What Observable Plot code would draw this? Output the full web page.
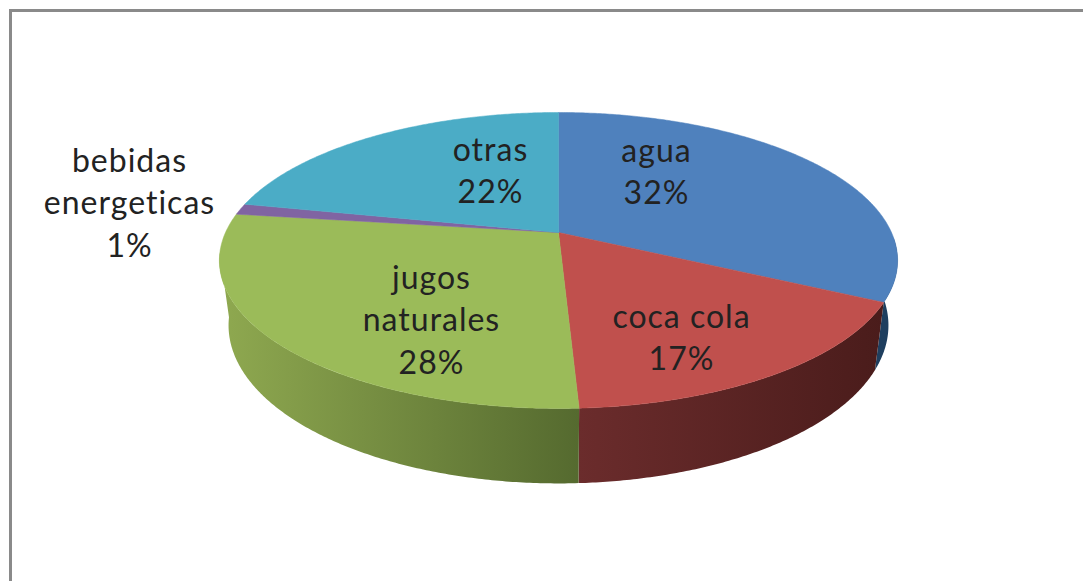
<!DOCTYPE html>
<html lang="es">
<head>
<meta charset="utf-8">
<script src="https://cdn.jsdelivr.net/npm/d3@7"></script>
<script src="https://cdn.jsdelivr.net/npm/@observablehq/plot@0.6"></script>
<style>
html,body{margin:0;padding:0;background:#fff;overflow:hidden}
svg{display:block}
svg text{font-variant-ligatures:none;letter-spacing:1px}
</style>
</head>
<body>
<div id="chart"></div>
<script>
// Data
const categories = ["agua", "coca cola", "jugos naturales", "bebidas energeticas", "otras"];
const values = [32.4, 16.8, 27.9, 1.2, 21.7];

// Styles
const topColors = ["#4f81bd", "#c0504d", "#9bbb59", "#8064a2", "#4bacc6"];
const wallStops = [["#1f3f5f", "#1f3f5f"], ["#6b2c2c", "#4a1c1b"], ["#8fa950", "#556a2f"], null, null];

// Perspective view of the disc
const W = 1083, H = 581, cx = 558;
const topDisc = {cy: 232, k: 333, a: 142.7, c: 0.189};
const baseDisc = {cy: 295, k: 324, a: 152.4, c: 0.189};
const project = (deg, d) => {
  const t = deg * Math.PI / 180, u = Math.sin(t), v = Math.cos(t), w = 1 + d.c * v;
  return {x: cx + d.k * u / w, y: d.cy - d.a * v / w};
};
const arcDegrees = (from, to) => {
  const n = Math.max(2, Math.ceil(Math.abs(to - from) * 2));
  return d3.range(n + 1).map(i => from + (to - from) * i / n);
};

// Slice spans from the values
const total = d3.sum(values);
let run = 0;
const spans = values.map(v => { const s = run; run += v; return [s / total * 360, run / total * 360]; });

const topPolys = spans.map(([a, b]) => [{x: cx, y: topDisc.cy}, ...arcDegrees(a, b).map(t => project(t, topDisc))]);
const wallFrom = 92, wallTo = 262;
const wallPolys = spans.map(([a, b]) => {
  const s = Math.max(a, wallFrom), e = Math.min(b, wallTo);
  if (e <= s) return null;
  const deg = arcDegrees(s, e);
  return [...deg.map(t => project(t, topDisc)), ...deg.slice().reverse().map(t => project(t, baseDisc))];
});

// Gradients for the walls
const gradientDefs = () => {
  const ns = "http://www.w3.org/2000/svg";
  const defs = document.createElementNS(ns, "defs");
  wallStops.forEach((stops, i) => {
    if (!stops) return;
    const g = document.createElementNS(ns, "linearGradient");
    g.setAttribute("id", "wall" + i);
    stops.forEach((c, j) => {
      const s = document.createElementNS(ns, "stop");
      s.setAttribute("offset", j);
      s.setAttribute("stop-color", c);
      g.appendChild(s);
    });
    defs.appendChild(g);
  });
  return defs;
};

// Label placement
const labelLines = ["agua\n32%", "coca cola\n17%", "jugos\nnaturales\n28%", "bebidas\nenergeticas\n1%", "otras\n22%"];
const labelX = [656, 681, 431, 129, 490];
const labelY = [169, 335, 317, 200, 168];
const labels = categories.map((c, i) => ({c, text: labelLines[i], x: labelX[i], y: labelY[i]}));

const chart = Plot.plot({
  width: W, height: H,
  margin: 0,
  x: {domain: [0, W], range: [0, W], axis: null},
  y: {domain: [0, H], range: [0, H], axis: null},
  style: {background: "#fff"},
  marks: [
    gradientDefs,
    Plot.ruleX([10], {y1: 9, y2: H, stroke: "#8a8a8a", strokeWidth: 3}),
    Plot.ruleY([10], {x1: 9, x2: W, stroke: "#8a8a8a", strokeWidth: 3}),
    ...wallPolys.flatMap((p, i) => p ? [Plot.line(p, {x: "x", y: "y", fill: `url(#wall${i})`, stroke: "none"})] : []),
    ...topPolys.map((p, i) => Plot.line([...p, p[0]], {x: "x", y: "y", fill: topColors[i], stroke: topColors[i], strokeWidth: 0.5})),
    Plot.text(labels, {
      x: "x", y: "y", text: "text",
      fontFamily: "Lato", fontSize: 32, lineHeight: 1.33, fill: "#222", textAnchor: "middle"
    })
  ]
});
document.getElementById("chart").appendChild(chart);
</script>
</body>
</html>
